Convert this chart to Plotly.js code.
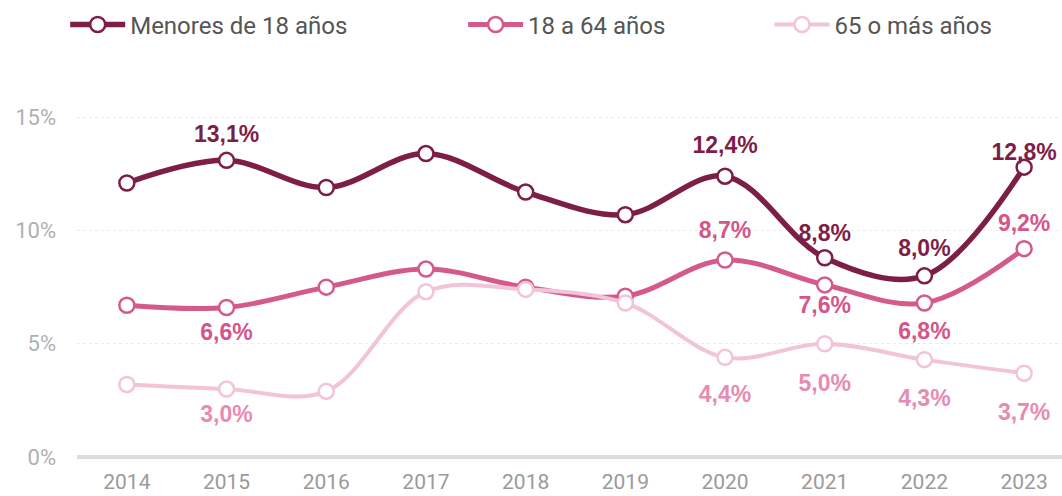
<!DOCTYPE html>
<html><head><meta charset="utf-8">
<script src="https://cdn.plot.ly/plotly-3.0.1.min.js"></script>
<style>html,body{margin:0;padding:0;background:#fff}#c{width:1062px;height:496px}</style>
</head><body><div id="c"></div>
<script>
const years = [2014,2015,2016,2017,2018,2019,2020,2021,2022,2023];
const menores = [12.1,13.1,11.9,13.4,11.7,10.7,12.4,8.8,8.0,12.8];
const adultos = [6.7,6.6,7.5,8.3,7.5,7.1,8.7,7.6,6.8,9.2];
const mayores = [3.2,3.0,2.9,7.3,7.4,6.8,4.4,5.0,4.3,3.7];
const labeledYears = [2015,2020,2021,2022,2023];
const posMenores = ['top center','top center','top center','top center','top center'];
const posAdultos = ['bottom center','top center','bottom center','bottom center','top center'];
const posMayores = ['bottom center','bottom center','bottom center','bottom center','bottom center'];
// spacing pads (invisible marker sizes) controlling label distance from points
const padMenores = [19,27,16,21,1];
const padAdultos = [23,25,15,29,17];
const padMayores = [23,43,47,45,45];
const names = ['Menores de 18 años','18 a 64 años','65 o más años'];
const colors = ['#7D1E46','#D45A8C','#F2C4D7'];
const labelColors = ['#7D1E46','#D4558A','#E68BB1'];

function fmt(v){return v.toFixed(1).replace('.',',')+'%';}

const series=[menores,adultos,mayores];
const poss=[posMenores,posAdultos,posMayores];
const pads=[padMenores,padAdultos,padMayores];
const widths=[5.5,5,4];
const legendIds=['legend','legend2','legend3'];
const lineTraces=series.map((vals,i)=>({
  x:years,y:vals,name:names[i],type:'scatter',mode:'lines+markers',
  line:{color:colors[i],width:widths[i],shape:'spline',smoothing:1},
  marker:{size:15,color:'#fff',line:{color:colors[i],width:2.5}},
  cliponaxis:false,hoverinfo:'skip',legend:legendIds[i]
}));
const labelTraces=series.map((vals,i)=>{
  const ly=labeledYears.map(y=>vals[years.indexOf(y)]);
  return {x:labeledYears,y:ly,type:'scatter',mode:'markers+text',showlegend:false,
    text:ly.map(fmt),textposition:poss[i],
    marker:{size:pads[i],opacity:0,color:'#fff'},
    textfont:{family:'Liberation Sans, Arial, sans-serif',size:23,color:labelColors[i],weight:'bold'},
    cliponaxis:false,hoverinfo:'skip'};
});

const legFont={family:'Roboto, sans-serif',size:24,color:'#555'};
const legBase={orientation:'h',xanchor:'left',yanchor:'middle',y:1.231,font:legFont,itemwidth:55,bgcolor:'rgba(0,0,0,0)'};
const layout={
  width:1062,height:496,
  margin:{l:77,r:0,t:106,b:39,autoexpand:false},
  paper_bgcolor:'#fff',plot_bgcolor:'#fff',
  showlegend:true,
  legend:Object.assign({},legBase,{x:-0.012}),
  legend2:Object.assign({},legBase,{x:0.392}),
  legend3:Object.assign({},legBase,{x:0.703}),
  xaxis:{range:[2013.5,2023.38],tickvals:years,ticktext:years.map(String),showgrid:false,zeroline:false,
    showline:false,ticks:'',ticklabelstandoff:10,tickfont:{family:'Roboto, sans-serif',size:21,color:'#9a9a9a'},fixedrange:true,automargin:false},
  yaxis:{range:[0,15.5],tickvals:[0,5,10,15],ticktext:['0%','5%','10%','15%'],
    showgrid:true,gridcolor:'#ebebeb',griddash:'dot',gridwidth:1,
    zeroline:true,zerolinecolor:'#dddddd',zerolinewidth:4,automargin:false,
    ticks:'',ticklabelstandoff:20,tickfont:{family:'Roboto, sans-serif',size:22,color:'#b0b0b0'},fixedrange:true}
};
Plotly.newPlot('c',lineTraces.concat(labelTraces),layout,{displayModeBar:false,staticPlot:true});
</script></body></html>
